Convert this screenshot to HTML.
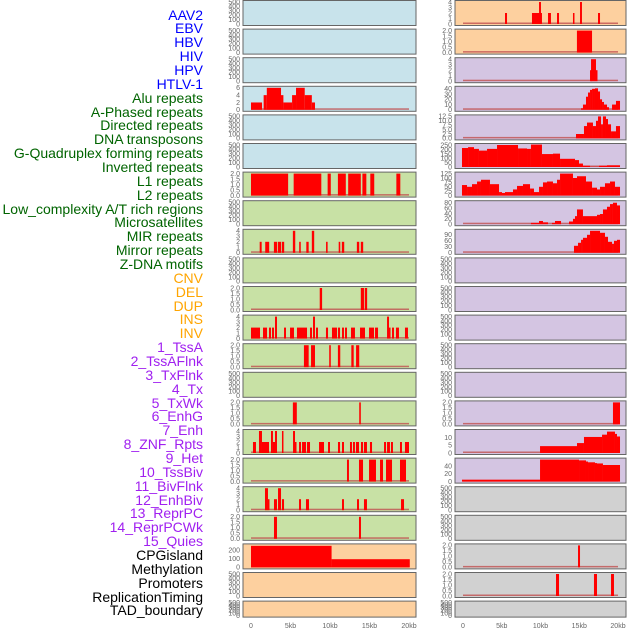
<!DOCTYPE html>
<html><head><meta charset="utf-8"><style>
body{margin:0;background:#fff;width:630px;height:630px;overflow:hidden;font-family:"Liberation Sans",sans-serif}
#labels div{position:absolute;right:427px;font-size:14px;line-height:14px;white-space:nowrap}
</style></head><body>
<div id="labels"></div>
<svg id="chart" width="630" height="630" style="position:absolute;left:0;top:0"></svg>
<script>
const trackNames=["AAV2","EBV","HBV","HIV","HPV","HTLV-1","Alu repeats","A-Phased repeats","Directed repeats","DNA transposons","G-Quadruplex forming repeats","Inverted repeats","L1 repeats","L2 repeats","Low_complexity A/T rich regions","Microsatellites","MIR repeats","Mirror repeats","Z-DNA motifs","CNV","DEL","DUP","INS","INV","1_TssA","2_TssAFlnk","3_TxFlnk","4_Tx","5_TxWk","6_EnhG","7_Enh","8_ZNF_Rpts","9_Het","10_TssBiv","11_BivFlnk","12_EnhBiv","13_ReprPC","14_ReprPCWk","15_Quies","CPGisland","Methylation","Promoters","ReplicationTiming","TAD_boundary"];
const trackGroups=[0,0,0,0,0,0,1,1,1,1,1,1,1,1,1,1,1,1,1,2,2,2,2,2,3,3,3,3,3,3,3,3,3,3,3,3,3,3,3,4,4,4,4,4];
const xTickLabels=["0","5kb","10kb","15kb","20kb"];
const xTickValues=[0,5,10,15,20];
const empty=[0,100,200,300,400,500];
const t2=[0,0.5,1,1.5,2];
const t4=[0,1,2,3,4];
const leftTicks=[empty,empty,empty,[0,2,4,6],empty,empty,t2,empty,t4,empty,t2,t4,t2,empty,t2,t4,t2,t4,t2,[0,100,200],empty,empty];
const leftMax=[500,500,500,6,500,500,2,500,4,500,2,4,2,500,2,4,2,4,2,255,500,500];
const leftData=[[],[],[],
[[0,1.4,2],[1.6,2.0,4],[2.0,3.8,6],[3.8,4.1,4],[4.1,5.2,2],[5.2,5.7,4],[5.7,6.8,6],[6.8,7.7,4],[7.7,8.1,2]],
[],[],
[[0,4.7,2],[5.4,8.9,2],[9.7,10.1,2],[11.0,12.0,2],[12.3,13.9,2],[14.1,14.6,2],[15.1,15.6,2],[18.4,18.9,2]],
[],
[[1.1,1.35,2],[1.8,2.3,2],[2.9,3.3,2],[3.4,3.8,2],[3.9,4.2,2],[5.3,5.6,4],[6.1,6.3,2],[7.0,7.3,2],[7.7,8.0,4],[9.5,9.7,2],[11.1,11.3,2],[11.5,11.8,2],[13.4,13.7,2],[13.9,14.2,2]],
[],
[[8.7,9.0,2],[13.9,14.3,2],[14.4,14.7,2]],
[[0,1.14,2],[1.52,2.03,2],[2.28,2.53,2],[2.66,2.91,2],[3.04,3.29,4],[4.18,4.43,2],[4.94,5.44,2],[5.82,7.09,2],[7.47,7.72,2],[7.85,8.1,4],[8.23,8.48,2],[9.49,9.75,2],[10.25,10.89,2],[11.01,11.27,2],[11.52,11.77,2],[11.9,12.15,2],[12.66,13.16,2],[13.8,14.43,2],[14.94,15.57,2],[15.7,16.08,2],[17.22,17.47,4],[17.47,17.59,2],[17.85,18.1,2],[18.35,18.73,2],[19.49,19.87,2]],
[[6.7,7.3,2],[7.6,8.1,2],[9.9,10.1,2],[11.0,11.3,2],[12.7,13.0,2],[13.3,13.7,2]],
[],
[[5.3,5.8,2],[13.7,13.9,2]],
[[0.25,0.63,2],[1.01,1.39,4],[1.39,2.28,2],[2.53,2.78,4],[2.78,3.04,2],[3.04,3.29,4],[3.92,4.05,4],[5.32,5.57,4],[5.57,5.7,2],[6.08,6.33,2],[6.46,6.96,2],[7.09,7.47,2],[8.61,9.24,2],[9.75,10.0,2],[11.01,11.27,2],[11.52,11.77,2],[12.53,12.78,2],[12.91,13.16,2],[13.29,13.67,2],[13.92,14.18,2],[14.3,14.68,2],[15.06,15.32,2],[16.84,17.09,2],[17.22,17.59,2],[17.72,17.97,2],[18.86,19.11,2],[19.49,20,2]],
[[12.15,12.4,2],[13.67,14.18,2],[14.94,15.82,2],[16.33,16.71,2],[17.09,17.85,2],[18.86,19.62,2]],
[[1.77,2.15,4],[2.15,2.28,2],[2.91,3.29,2],[3.42,3.8,4],[3.92,4.18,2],[6.08,6.33,2],[6.96,7.34,2],[11.52,11.77,2],[13.42,13.67,2],[14.3,14.68,2],[18.99,19.37,2]],
[[2.91,3.29,2],[13.67,13.92,2]],
[[0,10.2,250],[10.2,20.1,95]],
[],[]];
const rightTicks=[t4,t2,t4,[0,10,20,30,40],[0,2.5,5,7.5,10,12.5],[0,50,100,150,200,250],[0,25,50,75,100,125],[0,20,40,60,80],[0,30,60,90],empty,empty,empty,empty,empty,t2,[0,5,10],[0,20,40],empty,empty,t2,t2,empty];
const rightMax=[4,2,4,42,12.5,255,125,82,110,500,500,500,500,500,2,14.4,57,500,500,2,2,500];
const rightData=[
[[5.42,5.68,2],[8.9,10.19,2],[9.81,10.06,4],[10.97,11.35,2],[12.13,12.39,2],[14.19,14.32,2],[15.1,15.35,4],[17.42,17.68,2]],
[[14.7,16.65,2]],
[[16.39,16.52,2],[16.52,17.16,4],[17.16,17.29,2]],
[[15.23,15.48,3],[15.48,15.87,10],[15.87,16.13,25],[16.13,16.39,33],[16.39,16.65,38],[16.65,17.03,40],[17.03,17.42,41],[17.42,17.68,35],[17.68,17.94,20],[17.94,18.19,15],[18.19,18.58,10],[18.58,18.84,5],[19.23,19.74,10],[19.74,20.26,17]],
[[14.58,15.61,2.5],[15.61,16.0,7],[16.0,16.77,9],[16.77,17.16,7],[17.16,17.42,10],[17.42,17.81,12.5],[17.81,18.06,8],[18.06,18.45,12.5],[18.45,18.71,11],[18.71,19.1,8],[19.1,19.74,4],[19.74,20.26,7]],
[[-0.13,0.65,220],[0.65,1.42,230],[1.42,2.06,210],[2.06,3.1,190],[3.1,4.39,210],[4.39,7.1,255],[7.1,8.26,215],[8.26,8.77,210],[8.77,10.19,260],[10.19,11.61,150],[11.61,12.52,155],[12.52,14.45,95],[14.45,14.97,80],[14.97,15.48,40],[15.48,16.39,15],[16.39,17.55,3],[17.55,18.58,15],[18.58,20.26,20]],
[[-0.13,0.52,60],[0.52,1.16,50],[1.16,1.81,65],[1.81,2.32,80],[2.32,3.48,90],[3.48,4.65,65],[4.65,5.03,20],[5.03,5.42,15],[5.42,6.45,20],[6.45,6.97,35],[6.97,7.74,55],[7.74,8.65,65],[8.65,9.16,40],[9.16,9.81,20],[9.81,10.32,50],[10.32,10.84,75],[10.84,11.61,80],[11.61,12.13,70],[12.13,12.52,90],[12.52,14.19,125],[14.19,14.71,100],[14.71,15.87,110],[15.87,16.65,80],[16.65,17.29,45],[17.29,17.68,35],[17.68,18.32,50],[18.32,18.97,70],[18.97,19.61,80],[19.61,20.26,50]],
[[8.77,9.81,5],[9.81,10.32,12],[10.32,10.97,7],[11.48,11.87,5],[11.87,12.65,12],[13.68,14.19,10],[14.19,14.45,20],[14.45,14.71,30],[14.71,15.48,55],[15.48,17.29,30],[17.29,17.68,35],[17.68,18.06,38],[18.06,18.58,55],[18.58,18.97,65],[18.97,19.35,75],[19.35,19.87,80],[19.87,20.26,70]],
[[14.32,14.84,35],[14.84,15.23,50],[15.23,15.48,65],[15.48,16.0,75],[16.0,16.39,90],[16.39,17.68,110],[17.68,18.32,100],[18.32,18.71,80],[18.71,19.23,55],[19.23,19.48,45],[19.48,19.87,60],[19.87,20.26,65]],
[],[],[],[],[],
[[19.35,20.26,2]],
[[9.94,14.71,4.5],[14.71,15.61,6.5],[15.61,17.94,10.5],[17.94,18.58,12],[18.58,19.61,14],[19.61,19.87,12.5],[19.87,20.26,10.8]],
[[-0.13,9.94,5],[9.94,14.97,57],[14.97,15.87,55],[15.87,16.13,52],[16.13,17.03,50],[17.03,17.29,48],[17.29,18.06,47],[18.06,20.26,43]],
[],[],
[[14.84,15.1,2]],
[[12.0,12.39,2],[16.9,17.29,2],[19.1,19.48,2]],
[]];
const groupColors=["#0000ff","#006400","#ffa500","#a020f0","#000000"];
const leftBg=["#c8e3eb","#c8e3eb","#c8e3eb","#c8e3eb","#c8e3eb","#c8e3eb","#c8e1a5","#c8e1a5","#c8e1a5","#c8e1a5","#c8e1a5","#c8e1a5","#c8e1a5","#c8e1a5","#c8e1a5","#c8e1a5","#c8e1a5","#c8e1a5","#c8e1a5","#fdd09f","#fdd09f","#fdd09f"];
const rightBg=["#fdd09f","#fdd09f","#d4c5e2","#d4c5e2","#d4c5e2","#d4c5e2","#d4c5e2","#d4c5e2","#d4c5e2","#d4c5e2","#d4c5e2","#d4c5e2","#d4c5e2","#d4c5e2","#d4c5e2","#d4c5e2","#d4c5e2","#d1d1d1","#d1d1d1","#d1d1d1","#d1d1d1","#d1d1d1"];

const NS="http://www.w3.org/2000/svg";
const svg=document.getElementById('chart');
const lab=document.getElementById('labels');
trackNames.forEach((n,i)=>{
  const d=document.createElement('div');
  
  
  d.textContent=n;
  d.style.top=(15+i*13.86-7.5)+'px';
  d.style.color=groupColors[trackGroups[i]];
  lab.appendChild(d);
});
function el(tag,attrs){const e=document.createElementNS(NS,tag);for(const k in attrs)e.setAttribute(k,attrs[k]);svg.appendChild(e);return e;}
const cols=[{x0:243,x1:416,z:251,s:7.9,tx:240,bg:leftBg,data:leftData,ticks:leftTicks,max:leftMax,side:'left'},
            {x0:455,x1:626,z:463,s:7.75,tx:452,bg:rightBg,data:rightData,ticks:rightTicks,max:rightMax,side:'right'}];
function fmt(t,ticks){const dec=ticks.some(v=>v%1!==0);return dec?t.toFixed(1):String(t);}
cols.forEach(c=>{
  const xs=kb=>c.z+kb*c.s;
  for(let r=0;r<22;r++){
    const top=r*28.6, h=(r===21?16:25);
    const p=el('rect',{x:c.x0,y:top+0.5,width:c.x1-c.x0,height:h,fill:c.bg[r],stroke:'#666','stroke-width':1});
    
    
    const bot=top+h-1, tp=top+2;
    const ys=v=>bot-v/c.max[r]*(bot-tp);
    c.ticks[r].forEach(t=>{
      const tx=el('text',{x:c.tx,y:ys(t)+2.3,'font-size':7,fill:'#666','text-anchor':'end'});
      
      
      tx.textContent=fmt(t,c.ticks[r]);
    });
    const segs=c.data[r];
    if(segs.length){
      const b=el('rect',{x:xs(0),y:bot-1.5,width:xs(20)-xs(0),height:1.5,fill:'#c05050',opacity:0.8});
      
      
    }
    segs.forEach(s=>{
      const x=xs(s[0]), w=Math.max(1.5,xs(s[1])-xs(s[0])), y=ys(s[2]);
      const br=el('rect',{x:x,y:y,width:w,height:bot-y,fill:'#ff0000'});
      
      
    });
  }
  xTickValues.forEach((v,i)=>{
    const t=el('text',{x:xs(v),y:628,'font-size':7,fill:'#666','text-anchor':'middle'});
    
    
    t.textContent=xTickLabels[i];
  });
});
</script>
</body></html>
